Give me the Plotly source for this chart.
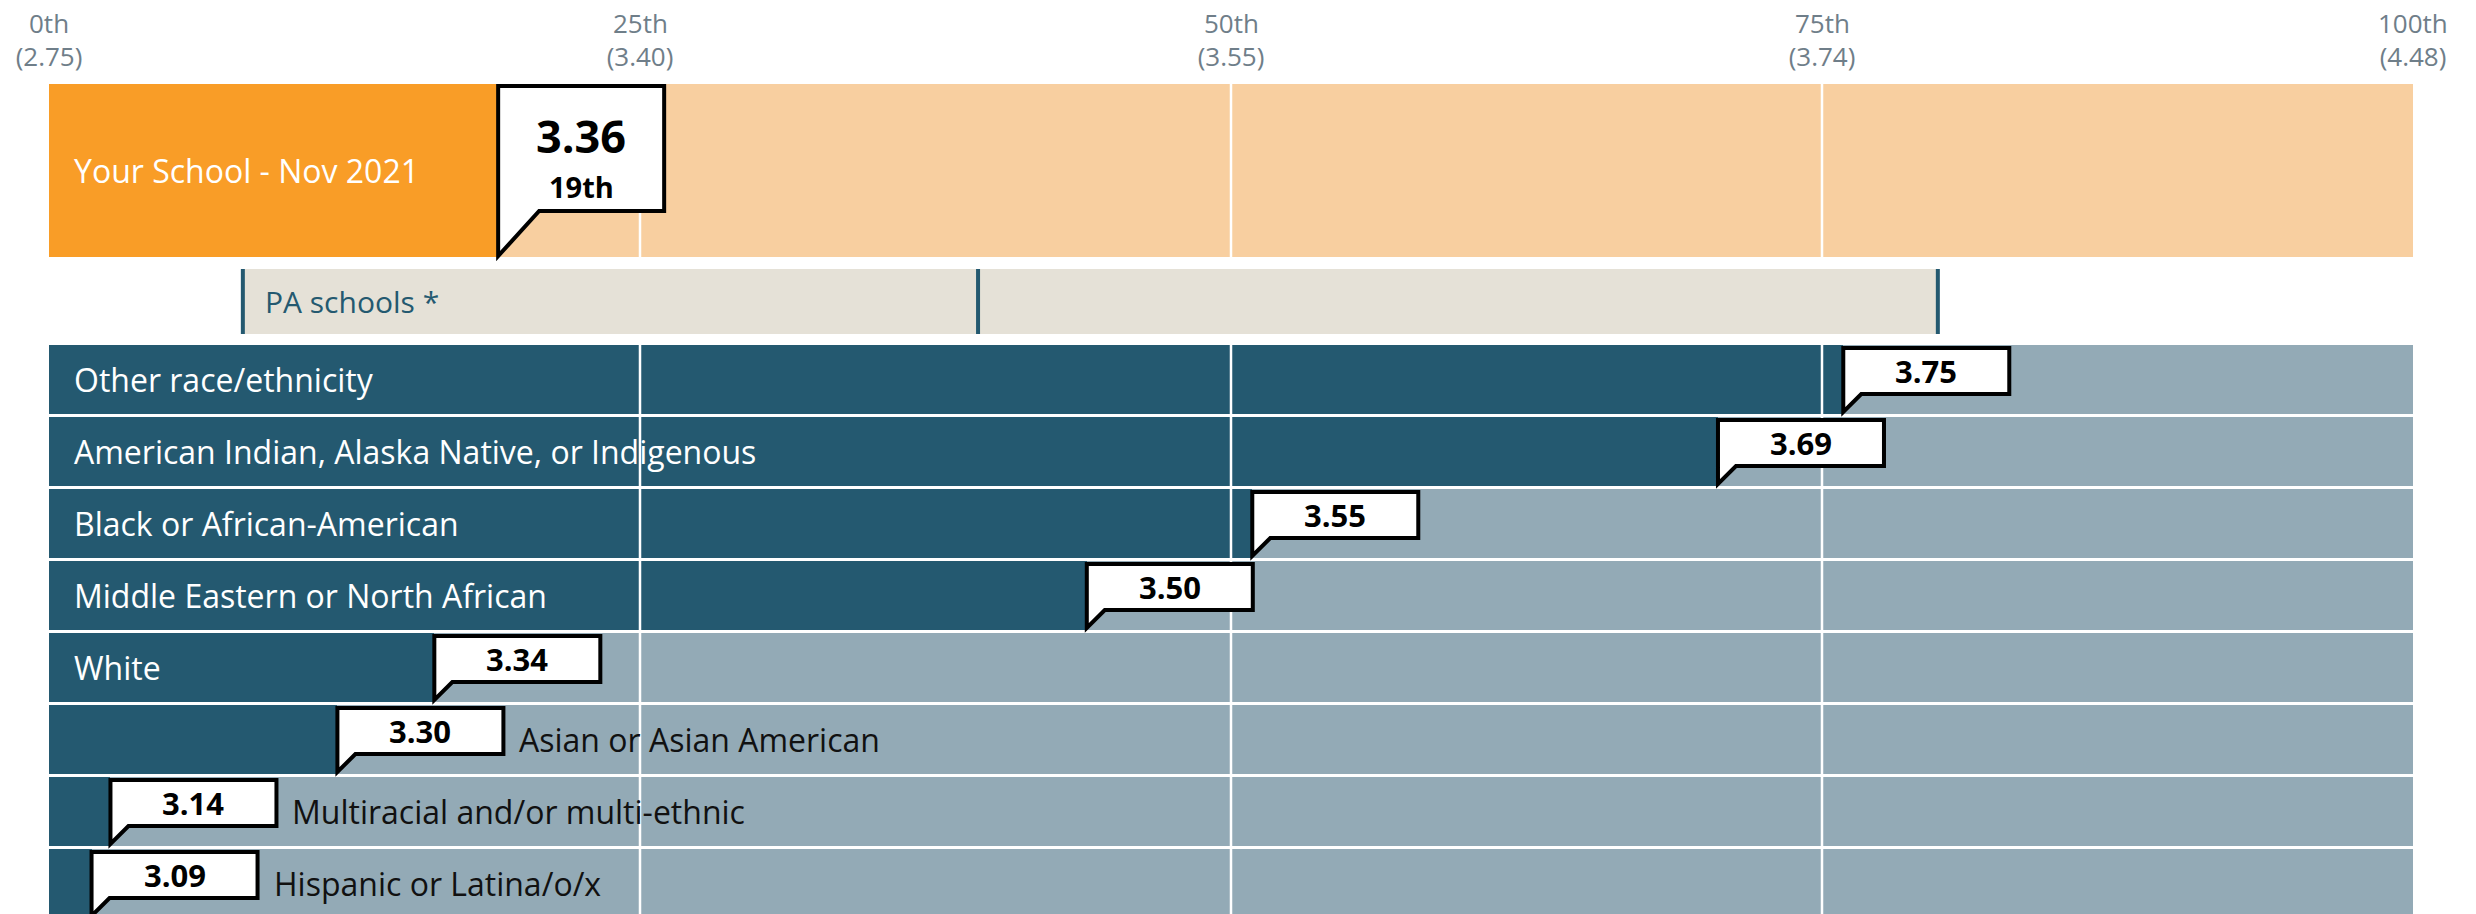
import plotly.graph_objects as go

# ---------------- data ----------------
pct_ticks = [0, 25, 50, 75, 100]
pct_labels = ["0th", "25th", "50th", "75th", "100th"]
score_labels = ["(2.75)", "(3.40)", "(3.55)", "(3.74)", "(4.48)"]

school_label = "Your School - Nov 2021"
school_score = "3.36"
school_pct = 19.0
school_pct_label = "19th"

pa_label = "PA schools *"
pa_low = 8.2
pa_mid = 39.3
pa_high = 79.9

groups = [
    "Other race/ethnicity",
    "American Indian, Alaska Native, or Indigenous",
    "Black or African-American",
    "Middle Eastern or North African",
    "White",
    "Asian or Asian American",
    "Multiracial and/or multi-ethnic",
    "Hispanic or Latina/o/x",
]
group_scores = ["3.75", "3.69", "3.55", "3.50", "3.34", "3.30", "3.14", "3.09"]
group_pcts = [75.9, 70.6, 50.9, 43.9, 16.3, 12.2, 2.6, 1.8]

# ---------------- layout / style ----------------
W, H = 2476, 914
BODY = 8                       # default page body margin
PLOT_L, PLOT_R, PLOT_T = 49, 2413, 80   # plot area in page pixels
PW = PLOT_R - PLOT_L
FONT = "Open Sans"

def u(px):  # pixel width -> x units (percentile)
    return px * 100.0 / PW

ORANGE = "#F99D27"
ORANGE_LT = "#F8CFA0"
TEAL = "#245970"
TEAL_LT = "#93AAB6"
PA_FILL = "#E5E1D7"
TICK_COL = "#6F7E89"

SCHOOL_TOP, SCHOOL_BOT = 84, 257
PA_TOP, PA_BOT = 269, 334
ROW_TOP0, ROW_PITCH, ROW_H = 345, 72, 69
Y_END = H + BODY

row_tops = [ROW_TOP0 + i * ROW_PITCH for i in range(len(groups))]
row_centers = [t + ROW_H / 2 for t in row_tops]

fig = go.Figure()

# school band
fig.add_trace(go.Bar(orientation="h", y=[(SCHOOL_TOP + SCHOOL_BOT) / 2], x=[100],
                     width=[SCHOOL_BOT - SCHOOL_TOP], marker_color=ORANGE_LT,
                     marker_line_width=0, hoverinfo="skip", showlegend=False))
fig.add_trace(go.Bar(orientation="h", y=[(SCHOOL_TOP + SCHOOL_BOT) / 2], x=[school_pct],
                     width=[SCHOOL_BOT - SCHOOL_TOP], marker_color=ORANGE,
                     marker_line_width=0, hoverinfo="skip", showlegend=False))
# PA band
fig.add_trace(go.Bar(orientation="h", y=[(PA_TOP + PA_BOT) / 2], x=[pa_high - pa_low],
                     base=[pa_low], width=[PA_BOT - PA_TOP], marker_color=PA_FILL,
                     marker_line_width=0, hoverinfo="skip", showlegend=False))
# group rows
fig.add_trace(go.Bar(orientation="h", y=row_centers, x=[100] * len(groups),
                     width=[ROW_H] * len(groups), marker_color=TEAL_LT,
                     marker_line_width=0, hoverinfo="skip", showlegend=False))
fig.add_trace(go.Bar(orientation="h", y=row_centers, x=group_pcts,
                     width=[ROW_H] * len(groups), marker_color=TEAL,
                     marker_line_width=0, hoverinfo="skip", showlegend=False))

shapes = []
# white gridlines
for t in pct_ticks[1:-1]:
    for y0, y1 in [(SCHOOL_TOP, SCHOOL_BOT), (ROW_TOP0, Y_END)]:
        shapes.append(dict(type="line", x0=t, x1=t, y0=y0, y1=y1, xref="x", yref="y",
                           line=dict(color="white", width=2.5), layer="above"))
# PA markers
for v in [pa_low, pa_mid, pa_high]:
    shapes.append(dict(type="line", x0=v, x1=v, y0=PA_TOP, y1=PA_BOT, xref="x", yref="y",
                       line=dict(color=TEAL, width=4), layer="above"))

def callout(x, top, bottom, tip, w_px, tail_px):
    xr = x + u(w_px)
    xt = x + u(tail_px)
    return (f"M {x},{tip} L {x},{top} L {xr},{top} L {xr},{bottom} "
            f"L {xt},{bottom} Z")

annotations = []
# percentile labels above the score tick labels
for t, lab in zip(pct_ticks, pct_labels):
    annotations.append(dict(x=t, xref="x", y=1, yref="paper", yshift=PLOT_T - 23,
                            text=lab, showarrow=False, xanchor="center",
                            yanchor="middle",
                            font=dict(family=FONT, size=26, color=TICK_COL)))
# school callout
shapes.append(dict(type="path", xref="x", yref="y",
                   path=callout(school_pct, SCHOOL_TOP + 2, 211, SCHOOL_BOT - 1, 166, 41),
                   fillcolor="white", line=dict(color="black", width=4), layer="above"))
cx = school_pct + u(83)
annotations.append(dict(x=cx, y=135, text=school_score, showarrow=False,
                        xanchor="center", yanchor="middle",
                        font=dict(family=FONT, size=45, color="black", weight=700)))
annotations.append(dict(x=cx, y=186, text=school_pct_label, showarrow=False,
                        xanchor="center", yanchor="middle",
                        font=dict(family=FONT, size=29, color="black", weight=700)))
annotations.append(dict(x=u(23), y=(SCHOOL_TOP + SCHOOL_BOT) / 2, text=school_label,
                        showarrow=False, xanchor="left", yanchor="middle",
                        font=dict(family=FONT, size=32, color="white")))
# PA label
annotations.append(dict(x=pa_low + u(20), y=(PA_TOP + PA_BOT) / 2, text=pa_label,
                        showarrow=False, xanchor="left", yanchor="middle",
                        font=dict(family=FONT, size=30, color=TEAL)))

BOX_W = 166
LABEL_SIZE = 32
for name, sc, p, top in zip(groups, group_scores, group_pcts, row_tops):
    shapes.append(dict(type="path", xref="x", yref="y",
                       path=callout(p, top + 3, top + 49, top + 67, BOX_W, 18),
                       fillcolor="white", line=dict(color="black", width=4), layer="above"))
    annotations.append(dict(x=p + u(BOX_W / 2), y=top + 26, text=sc, showarrow=False,
                            xanchor="center", yanchor="middle",
                            font=dict(family=FONT, size=31, color="black", weight=700)))
    est_w = 0.53 * LABEL_SIZE * len(name)
    avail = p * PW / 100.0 - 23 - 10
    if est_w < avail:
        annotations.append(dict(x=u(23), y=top + ROW_H / 2, text=name, showarrow=False,
                                xanchor="left", yanchor="middle",
                                font=dict(family=FONT, size=LABEL_SIZE, color="white")))
    else:
        annotations.append(dict(x=p + u(BOX_W + 14), y=top + ROW_H / 2, text=name,
                                showarrow=False, xanchor="left", yanchor="middle",
                                font=dict(family=FONT, size=LABEL_SIZE, color="#111111")))

fig.update_layout(
    width=W, height=H,
    margin=dict(l=PLOT_L - BODY, r=W - (PLOT_R - BODY), t=PLOT_T - BODY, b=0, pad=0),
    paper_bgcolor="white", plot_bgcolor="white",
    barmode="overlay", bargap=0,
    showlegend=False,
    shapes=shapes, annotations=annotations,
    xaxis=dict(range=[0, 100], side="top", tickmode="array", tickvals=pct_ticks,
               ticktext=score_labels, ticklabelstandoff=8,
               showgrid=False, zeroline=False, showline=False, ticks="",
               fixedrange=True, automargin=False,
               tickfont=dict(family=FONT, size=26, color=TICK_COL)),
    yaxis=dict(range=[Y_END, PLOT_T], visible=False, fixedrange=True, automargin=False),
)

fig.write_html("out.html")
